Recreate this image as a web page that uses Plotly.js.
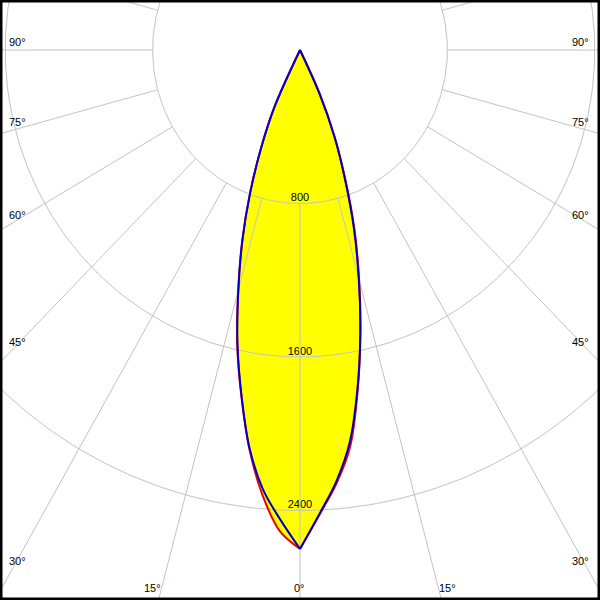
<!DOCTYPE html>
<html>
<head>
<meta charset="utf-8">
<script src="https://cdn.plot.ly/plotly-3.0.1.min.js"></script>
<style>
  html, body { margin: 0; padding: 0; background: #ffffff; }
  #chart { width: 600px; height: 600px; }
</style>
</head>
<body>
<div id="chart"></div>
<script>
// ---- data (cd / klm), gamma angles in degrees ----
const gamma      = [0, 2.5, 5, 7.5, 10, 12.5, 15, 17.5, 20, 22.5, 25, 27.5];
// C90 / C270 plane (blue)
const blueRight  = [2600, 2420, 2258, 2065, 1795, 1513, 1232, 973, 710, 488, 250, 0];
const blueLeft   = [2600, 2450, 2300, 2095, 1829, 1568, 1294, 1041, 791, 550, 330, 0];
// C0 / C180 plane (red)
const redRight   = [2600, 2424, 2268, 2085, 1803, 1515, 1240, 985, 722, 492, 250, 0];
const redLeft    = [2600, 2510, 2330, 2100, 1832, 1575, 1294, 1041, 791, 550, 330, 0];

// grid
const ringValues = [800, 1600, 2400];
const ringLabels = ['800', '1600', '2400'];
const spokeAngles = [-180, -165, -150, -135, -120, -105, -90, -75, -60, -45, -30, -15,
                     0, 15, 30, 45, 60, 75, 90, 105, 120, 135, 150, 165];
const sideTickLabels   = ['90°', '75°', '60°', '45°', '30°'];
const bottomTickLabels = ['15°', '0°', '15°'];

// ---- geometry / style ----
const pyu = 153.5 / 800;        // px per unit vertically
const aspect = 0.96;            // horizontal squeeze of the original
const centerPx = 50;            // pole distance from top, px
const yRange = [-(600 - centerPx) / pyu, centerPx / pyu];
const xHalf = 300 / (pyu * aspect);
const sideLabelY = [42, 122, 215, 342, 561];     // px from top
const bottomLabelX = [152, 299, 447];            // px from left
const bottomLabelY = 588;

function polar(r, deg) {
  const t = deg * Math.PI / 180;
  return [r * Math.sin(t), -r * Math.cos(t)];
}

// one half of a C-plane curve: from the nadir (gamma 0) out to the first zero
function half(values, sign) {
  const xs = [], ys = [];
  for (let i = 0; i < gamma.length; i++) {
    const p = polar(values[i], sign * gamma[i]);
    xs.push(p[0]); ys.push(p[1]);
    if (values[i] === 0) break;
  }
  return {x: xs, y: ys};
}

const halves = {
  redL: half(redLeft, -1), redR: half(redRight, 1),
  blueL: half(blueLeft, -1), blueR: half(blueRight, 1)
};

// rings
const ringX = [], ringY = [];
ringValues.forEach(r => {
  for (let a = -180; a <= 180; a += 1) {
    const p = polar(r, a); ringX.push(p[0]); ringY.push(p[1]);
  }
  ringX.push(null); ringY.push(null);
});

// spokes
const spokeX = [], spokeY = [];
const rInner = ringValues[0];
const rOuter = 6000;
spokeAngles.forEach(a => {
  const p0 = polar(rInner, a), p1 = polar(rOuter, a);
  spokeX.push(p0[0], p1[0], null); spokeY.push(p0[1], p1[1], null);
});

const gridColor = '#c3c3c3';
const fontSpec = {family: 'Liberation Sans, Arial, sans-serif', size: 11, color: '#000000'};

function fillTrace(h) {
  return {x: h.x, y: h.y, mode: 'lines', fill: 'toself', fillcolor: '#ffff00',
          line: {width: 0, color: '#ffff00', shape: 'spline', smoothing: 1}, hoverinfo: 'skip'};
}
function lineTrace(h, color) {
  return {x: h.x, y: h.y, mode: 'lines',
          line: {width: 2, color: color, shape: 'spline', smoothing: 1}, hoverinfo: 'skip'};
}

const traces = [
  fillTrace(halves.redL), fillTrace(halves.redR),
  fillTrace(halves.blueL), fillTrace(halves.blueR),
  {x: ringValues.map(() => 0), y: ringValues.map(r => -r + 5 / pyu),
   mode: 'text', text: ringLabels, textposition: 'middle center',
   textfont: fontSpec, hoverinfo: 'skip'},
  {x: ringX, y: ringY, mode: 'lines', line: {color: gridColor, width: 1},
   hoverinfo: 'skip', connectgaps: false},
  {x: spokeX, y: spokeY, mode: 'lines', line: {color: gridColor, width: 1},
   hoverinfo: 'skip', connectgaps: false},
  lineTrace(halves.redL, '#ee0000'), lineTrace(halves.redR, '#ee0000'),
  lineTrace(halves.blueL, '#0000cc'), lineTrace(halves.blueR, '#0000cc')
];

const annotations = [];
sideTickLabels.forEach((t, i) => {
  const yp = 1 - sideLabelY[i] / 600;
  annotations.push({text: t, xref: 'paper', yref: 'paper', x: 7 / 600, y: yp,
    xanchor: 'left', yanchor: 'middle', showarrow: false, font: fontSpec});
  annotations.push({text: t, xref: 'paper', yref: 'paper', x: 591 / 600, y: yp,
    xanchor: 'right', yanchor: 'middle', showarrow: false, font: fontSpec});
});
bottomTickLabels.forEach((t, i) => {
  annotations.push({text: t, xref: 'paper', yref: 'paper', x: bottomLabelX[i] / 600,
    y: 1 - bottomLabelY / 600, xanchor: 'center', yanchor: 'middle',
    showarrow: false, font: fontSpec});
});

const layout = {
  width: 600, height: 600,
  margin: {l: 0, r: 0, t: 0, b: 0, pad: 0},
  paper_bgcolor: '#ffffff', plot_bgcolor: '#ffffff',
  showlegend: false,
  xaxis: {range: [-xHalf, xHalf], visible: false, fixedrange: true},
  yaxis: {range: yRange, visible: false, fixedrange: true},
  annotations: annotations,
  shapes: [{type: 'rect', xref: 'paper', yref: 'paper', x0: 0, x1: 1, y0: 0, y1: 1,
            line: {color: '#000000', width: 5}, layer: 'above'}]
};

Plotly.newPlot('chart', traces, layout, {staticPlot: true, displayModeBar: false});
</script>
</body>
</html>
